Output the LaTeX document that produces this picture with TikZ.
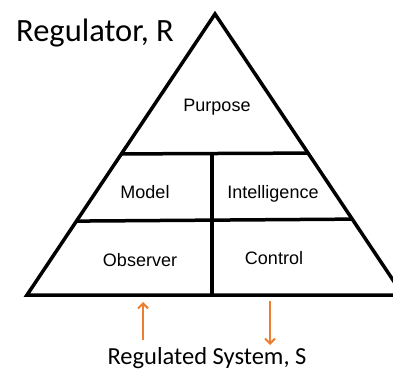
\documentclass[tikz,border=0pt]{standalone}
\usepackage{fontspec}
\setmainfont{Liberation Sans}
\newfontfamily\calibrifont{Carlito}
\usetikzlibrary{calc,arrows.meta}
\definecolor{floworange}{RGB}{237,125,49}

\begin{document}
\begin{tikzpicture}[%
        x=1pt,
        y=-1pt,
        part/.style={%
            anchor=base,
            inner sep=0pt,
            node font=\fontsize{18}{21}\selectfont,
        },
        caption/.style={%
            inner sep=0pt,
            node font=\calibrifont\fontsize{32.5}{38}\selectfont,
        },
        wall/.style={line width=3.5pt, line join=miter},
        flow/.style={%
            draw=floworange,
            line width=2pt,
            -{Straight Barb[length=5pt, width=10pt, line width=2pt]},
        },
    ]

    \clip (0,0) rectangle (393,371);

    \coordinate (apex) at (215,14);
    \coordinate (base_left) at (27,295);
    \coordinate (base_right) at (403,295);

    \draw [wall] (apex) -- (base_right) -- (base_left) -- cycle;

    % horizontal dividers
    \draw [wall] ($(apex)!0.498!(base_left)$) -- ($(apex)!0.495!(base_right)$);
    \draw [wall] ($(apex)!0.737!(base_left)$) -- ($(apex)!0.73!(base_right)$);
    \draw [wall] (212,154) -- (212,295);

    \node (purpose) at (217,112) [part] {Purpose};
    \node (model) at (145,199) [part] {Model};
    \node (intelligence) at (273,199) [part] {Intelligence};
    \node (observer) at (140,266) [part] {Observer};
    \node (control) at (274,264) [part] {Control};

    \node (regulator) at (16,42) [caption, anchor=base west] {Regulator, R};
    \node (system) at (207,364) [caption, anchor=base, node font=\calibrifont\fontsize{24.5}{28}\selectfont] {Regulated System, S};

    \coordinate (sense_from) at (143,340);
    \coordinate (sense_to) at (143,302);
    \coordinate (act_from) at (270,301);
    \coordinate (act_to) at (270,345);

    \draw [flow] (sense_from) -- (sense_to);
    \draw [flow] (act_from) -- (act_to);
\end{tikzpicture}
\end{document}
